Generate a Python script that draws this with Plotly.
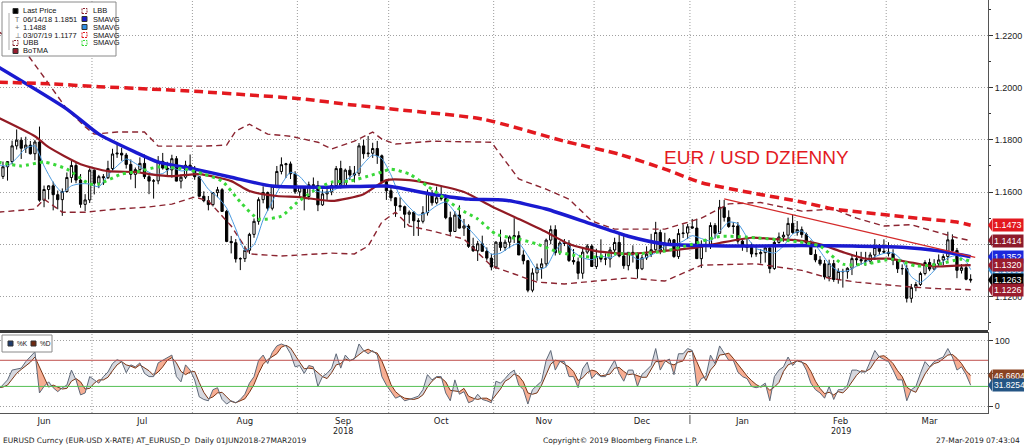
import plotly.graph_objects as go

# ---------------- DATA ----------------
month_names = ["Jun", "Jul", "Aug", "Sep", "Oct", "Nov", "Dec", "Jan", "Feb", "Mar"]
month_days = [21, 22, 23, 20, 23, 22, 21, 23, 20, 19]

open_ = [
 1.1693,1.1660,1.1697,1.1717,1.1777,1.1799,1.1768,1.1780,1.1747,1.1792,1.1569,1.1610,1.1624,1.1590,1.1571,1.1602,1.1656,1.1702,1.1646,1.1553,1.1570,
 1.1684,1.1634,1.1659,1.1655,1.1690,1.1746,1.1749,1.1742,1.1706,1.1668,1.1686,1.1710,1.1659,1.1642,1.1643,1.1718,1.1692,1.1685,1.1728,1.1642,1.1657,1.1703,
 1.1691,1.1659,1.1584,1.1567,1.1552,1.1598,1.1609,1.1526,1.1411,1.1406,1.1344,1.1345,1.1377,1.1438,1.1488,1.1571,1.1598,1.1538,1.1623,1.1679,1.1705,1.1708,1.1670,
 1.1601,1.1621,1.1583,1.1628,1.1625,1.1551,1.1593,1.1601,1.1625,1.1690,1.1625,1.1684,1.1665,1.1672,1.1777,1.1747,1.1749,1.1767,1.1739,1.1640,
 1.1605,1.1578,1.1548,1.1544,1.1515,1.1523,1.1490,1.1488,1.1521,1.1594,1.1559,1.1578,1.1575,1.1502,1.1449,1.1512,1.1462,1.1470,1.1392,1.1375,1.1402,1.1373,1.1347,
 1.1313,1.1408,1.1388,1.1408,1.1428,1.1433,1.1359,1.1337,1.1224,1.1290,1.1310,1.1325,1.1416,1.1456,1.1368,1.1405,1.1404,1.1338,1.1333,1.1289,1.1370,1.1393,
 1.1315,1.1353,1.1343,1.1344,1.1378,1.1407,1.1355,1.1318,1.1369,1.1363,1.1306,1.1348,1.1362,1.1379,1.1445,1.1373,1.1404,1.1417,1.1353,1.1441,1.1443,
 1.1467,1.1462,1.1345,1.1393,1.1395,1.1472,1.1442,1.1542,1.1503,1.1468,1.1470,1.1412,1.1395,1.1388,1.1363,1.1364,1.1368,1.1386,1.1307,1.1407,1.1428,1.1435,1.1480,
 1.1445,1.1456,1.1437,1.1406,1.1361,1.1340,1.1325,1.1275,1.1326,1.1265,1.1296,1.1295,1.1308,1.1345,1.1341,1.1337,1.1335,1.1359,1.1388,1.1373,
 1.1370,1.1364,1.1338,1.1306,1.1307,1.1193,1.1234,1.1246,1.1288,1.1330,1.1305,1.1325,1.1340,1.1353,1.1417,1.1376,1.1300,1.1310,1.1266]
high = [
 1.1719,1.1717,1.1717,1.1797,1.1840,1.1810,1.1812,1.1796,1.1800,1.1851,1.1625,1.1626,1.1640,1.1606,1.1614,1.1675,1.1720,1.1712,1.1669,1.1592,1.1691,
 1.1687,1.1666,1.1669,1.1720,1.1766,1.1791,1.1770,1.1750,1.1725,1.1694,1.1733,1.1744,1.1667,1.1650,1.1738,1.1750,1.1716,1.1743,1.1738,1.1668,1.1720,1.1744,
 1.1700,1.1660,1.1603,1.1585,1.1600,1.1620,1.1615,1.1532,1.1432,1.1420,1.1350,1.1394,1.1444,1.1499,1.1580,1.1622,1.1602,1.1624,1.1700,1.1733,1.1712,1.1717,1.1680,
 1.1623,1.1622,1.1640,1.1656,1.1643,1.1610,1.1620,1.1639,1.1700,1.1720,1.1690,1.1700,1.1700,1.1788,1.1800,1.1815,1.1789,1.1796,1.1744,1.1650,
 1.1623,1.1580,1.1580,1.1548,1.1530,1.1527,1.1500,1.1546,1.1610,1.1608,1.1621,1.1620,1.1591,1.1525,1.1527,1.1549,1.1497,1.1477,1.1425,1.1413,1.1433,1.1388,1.1364,
 1.1412,1.1456,1.1418,1.1434,1.1500,1.1450,1.1377,1.1340,1.1308,1.1326,1.1346,1.1422,1.1472,1.1473,1.1412,1.1420,1.1416,1.1382,1.1349,1.1388,1.1401,1.1400,
 1.1383,1.1419,1.1365,1.1390,1.1425,1.1443,1.1442,1.1370,1.1396,1.1369,1.1359,1.1392,1.1440,1.1486,1.1456,1.1444,1.1424,1.1420,1.1459,1.1476,1.1478,
 1.1497,1.1498,1.1415,1.1420,1.1484,1.1481,1.1570,1.1570,1.1530,1.1485,1.1485,1.1418,1.1420,1.1406,1.1395,1.1382,1.1393,1.1395,1.1416,1.1445,1.1448,1.1502,1.1514,
 1.1489,1.1468,1.1445,1.1415,1.1380,1.1355,1.1340,1.1341,1.1340,1.1308,1.1306,1.1312,1.1361,1.1372,1.1371,1.1371,1.1369,1.1420,1.1401,1.1419,
 1.1408,1.1381,1.1343,1.1323,1.1320,1.1248,1.1256,1.1295,1.1339,1.1345,1.1343,1.1361,1.1362,1.1448,1.1438,1.1386,1.1324,1.1325,1.1285]
low = [
 1.1617,1.1650,1.1644,1.1706,1.1763,1.1727,1.1750,1.1744,1.1722,1.1563,1.1542,1.1572,1.1530,1.1534,1.1509,1.1598,1.1636,1.1634,1.1540,1.1527,1.1558,
 1.1591,1.1615,1.1627,1.1650,1.1681,1.1731,1.1720,1.1690,1.1648,1.1615,1.1677,1.1650,1.1592,1.1575,1.1630,1.1686,1.1662,1.1655,1.1641,1.1614,1.1650,1.1681,
 1.1647,1.1581,1.1561,1.1530,1.1545,1.1580,1.1527,1.1408,1.1365,1.1330,1.1301,1.1332,1.1363,1.1425,1.1475,1.1557,1.1528,1.1530,1.1615,1.1668,1.1654,1.1650,1.1593,
 1.1584,1.1530,1.1571,1.1602,1.1527,1.1547,1.1570,1.1588,1.1620,1.1614,1.1620,1.1646,1.1637,1.1661,1.1728,1.1734,1.1731,1.1708,1.1639,1.1570,
 1.1565,1.1505,1.1528,1.1463,1.1480,1.1432,1.1432,1.1480,1.1510,1.1548,1.1553,1.1567,1.1496,1.1431,1.1447,1.1460,1.1432,1.1386,1.1371,1.1336,1.1373,1.1338,1.1300,
 1.1305,1.1375,1.1375,1.1385,1.1405,1.1359,1.1323,1.1216,1.1216,1.1260,1.1268,1.1312,1.1400,1.1357,1.1359,1.1393,1.1332,1.1322,1.1266,1.1268,1.1362,1.1321,
 1.1305,1.1331,1.1320,1.1311,1.1369,1.1350,1.1306,1.1300,1.1330,1.1269,1.1301,1.1340,1.1351,1.1375,1.1362,1.1370,1.1394,1.1348,1.1344,1.1424,1.1420,
 1.1460,1.1345,1.1309,1.1370,1.1382,1.1422,1.1440,1.1487,1.1463,1.1440,1.1402,1.1375,1.1370,1.1350,1.1352,1.1326,1.1330,1.1289,1.1302,1.1402,1.1410,1.1420,1.1440,
 1.1433,1.1425,1.1395,1.1360,1.1331,1.1318,1.1265,1.1258,1.1256,1.1249,1.1234,1.1268,1.1282,1.1319,1.1322,1.1318,1.1325,1.1340,1.1360,1.1365,
 1.1353,1.1320,1.1290,1.1283,1.1177,1.1176,1.1220,1.1240,1.1281,1.1297,1.1300,1.1315,1.1320,1.1338,1.1361,1.1270,1.1288,1.1262,1.1253]
close = [
 1.1660,1.1697,1.1717,1.1777,1.1799,1.1768,1.1780,1.1747,1.1792,1.1569,1.1610,1.1624,1.1590,1.1571,1.1602,1.1656,1.1702,1.1646,1.1553,1.1570,1.1684,
 1.1634,1.1659,1.1655,1.1690,1.1746,1.1749,1.1742,1.1706,1.1668,1.1686,1.1710,1.1659,1.1642,1.1643,1.1718,1.1692,1.1685,1.1728,1.1642,1.1657,1.1703,1.1691,
 1.1659,1.1584,1.1567,1.1552,1.1598,1.1609,1.1526,1.1411,1.1406,1.1344,1.1345,1.1377,1.1438,1.1488,1.1571,1.1598,1.1538,1.1623,1.1679,1.1705,1.1708,1.1670,1.1601,
 1.1621,1.1583,1.1628,1.1625,1.1551,1.1593,1.1601,1.1625,1.1690,1.1625,1.1684,1.1665,1.1672,1.1777,1.1747,1.1749,1.1767,1.1739,1.1640,1.1605,
 1.1578,1.1548,1.1544,1.1515,1.1523,1.1490,1.1488,1.1521,1.1594,1.1559,1.1578,1.1575,1.1502,1.1449,1.1512,1.1462,1.1470,1.1392,1.1375,1.1402,1.1373,1.1347,1.1313,
 1.1408,1.1388,1.1408,1.1428,1.1433,1.1359,1.1337,1.1224,1.1290,1.1310,1.1325,1.1416,1.1456,1.1368,1.1405,1.1404,1.1338,1.1333,1.1289,1.1370,1.1393,1.1315,
 1.1353,1.1343,1.1344,1.1378,1.1407,1.1355,1.1318,1.1369,1.1363,1.1306,1.1348,1.1362,1.1379,1.1445,1.1373,1.1404,1.1417,1.1353,1.1441,1.1443,1.1467,
 1.1462,1.1345,1.1393,1.1395,1.1472,1.1442,1.1542,1.1503,1.1468,1.1470,1.1412,1.1395,1.1388,1.1363,1.1364,1.1368,1.1386,1.1307,1.1407,1.1428,1.1435,1.1480,1.1445,
 1.1456,1.1437,1.1406,1.1361,1.1340,1.1325,1.1275,1.1326,1.1265,1.1296,1.1295,1.1308,1.1345,1.1341,1.1337,1.1335,1.1359,1.1388,1.1373,1.1370,
 1.1364,1.1338,1.1306,1.1307,1.1193,1.1234,1.1246,1.1288,1.1330,1.1305,1.1325,1.1340,1.1353,1.1417,1.1376,1.1300,1.1310,1.1266,1.1263]

# overlay studies read at sample points (trading-day index, value)
sma_blue_x = [0, 15, 22, 30, 35, 43, 51, 60, 73, 85, 95, 103, 111, 120, 130, 138, 146, 154, 165, 176, 187, 198, 206, 213]
sma_blue_y = [1.2079, 1.1918, 1.1822, 1.1753, 1.1715, 1.1688, 1.1657, 1.1623, 1.1619, 1.1623, 1.1592, 1.1573, 1.1569, 1.1535,
              1.1477, 1.1431, 1.1401, 1.1395, 1.1393, 1.1395, 1.1393, 1.1389, 1.1375, 1.1352]

sma_red_x = [0, 11, 22, 33, 44, 55, 66, 77, 88, 106, 124, 136, 146, 154, 165, 176, 183, 187, 199, 210, 213]
sma_red_y = [1.2021, 1.2015, 1.2004, 1.1995, 1.1985, 1.1972, 1.1958, 1.1935, 1.1915, 1.1880, 1.1795, 1.1745, 1.1688, 1.1636,
             1.1597, 1.1562, 1.1535, 1.1527, 1.1504, 1.1485, 1.1473]

botma_x = [0, 8, 11, 18, 24, 30, 33, 38, 44, 51, 55, 61, 66, 73, 80, 85, 90, 95, 102, 108, 114, 120, 125, 131, 138, 146,
           152, 158, 165, 170, 175, 180, 185, 190, 195, 200, 205, 210, 213]
botma_y = [1.1885, 1.1814, 1.1772, 1.1707, 1.1680, 1.1677, 1.1669, 1.1661, 1.1669, 1.1642, 1.1604, 1.1585, 1.1581, 1.1566,
           1.1592, 1.1646, 1.1646, 1.1631, 1.1600, 1.1546, 1.1497, 1.1447, 1.1401, 1.1374, 1.1363, 1.1375,
           1.1385, 1.1405, 1.1425, 1.1420, 1.1415, 1.1400, 1.1370, 1.1345, 1.1345, 1.1330, 1.1315, 1.1318, 1.1320]

ubb_x = [0, 5, 10, 15, 19, 21, 26, 32, 35, 45, 50, 52, 55, 59, 64, 70, 73, 78, 82, 84, 87, 95, 108, 114, 120, 125, 130,
         135, 146, 154, 160, 167, 176, 183, 188, 194, 200, 205, 210, 213]
ubb_y = [1.2215, 1.2160, 1.2040, 1.1918, 1.1850, 1.1822, 1.1830, 1.1830, 1.1776, 1.1776, 1.1780, 1.1834, 1.1860, 1.1822,
         1.1814, 1.1791, 1.1765, 1.1795, 1.1830, 1.1803, 1.1784, 1.1795, 1.1791, 1.1650, 1.1611, 1.1573, 1.1489,
         1.1458, 1.1458, 1.1500, 1.1555, 1.1560, 1.1527, 1.1535, 1.1500, 1.1470, 1.1475, 1.1450, 1.1425, 1.1414]

lbb_x = [0, 8, 10, 13, 14, 19, 26, 33, 38, 43, 46, 51, 55, 62, 73, 78, 81, 84, 87, 90, 95, 102, 108, 113, 118, 124, 131,
         138, 146, 154, 166, 176, 182, 188, 200, 206, 213]
lbb_y = [1.1523, 1.1535, 1.1573, 1.1535, 1.1523, 1.1523, 1.1535, 1.1543, 1.1554, 1.1581, 1.1566, 1.1470, 1.1363, 1.1355,
         1.1366, 1.1363, 1.1393, 1.1485, 1.1523, 1.1470, 1.1451, 1.1420, 1.1317, 1.1286, 1.1255, 1.1248, 1.1259,
         1.1271, 1.1259, 1.1320, 1.1325, 1.1300, 1.1270, 1.1255, 1.1236, 1.1230, 1.1226]

sma_green_x = [0, 5, 10, 15, 20, 22, 27, 31, 35, 41, 45, 49, 53, 57, 62, 65, 69, 73, 77, 81, 84, 86, 90, 94, 98, 101, 105,
               109, 114, 118, 122, 127, 131, 135, 140, 146, 152, 158, 166, 175, 180, 185, 190, 196, 201, 206, 211, 213]
sma_green_y = [1.1715, 1.1700, 1.1715, 1.1688, 1.1631, 1.1631, 1.1669, 1.1680, 1.1696, 1.1688, 1.1669, 1.1642, 1.1562,
               1.1497, 1.1508, 1.1554, 1.1604, 1.1638, 1.1642, 1.1661, 1.1677, 1.1688, 1.1669, 1.1623, 1.1573, 1.1535,
               1.1497, 1.1439, 1.1420, 1.1401, 1.1374, 1.1355, 1.1351, 1.1363, 1.1363, 1.1374, 1.1400, 1.1430, 1.1425,
               1.1410, 1.1393, 1.1324, 1.1324, 1.1343, 1.1317, 1.1324, 1.1343, 1.1335]

sma_lblue_x = list(range(0, 213, 2)) + [213]
sma_lblue_y = [1.1705, 1.1700, 1.1730, 1.1768, 1.1777, 1.1700, 1.1637, 1.1599, 1.1624, 1.1632, 1.1631, 1.1620, 1.1664,
               1.1700, 1.1727, 1.1710, 1.1686, 1.1668, 1.1671, 1.1693, 1.1681, 1.1684, 1.1659, 1.1611, 1.1582, 1.1539,
               1.1459, 1.1377, 1.1398, 1.1494, 1.1564, 1.1629, 1.1676, 1.1660, 1.1621, 1.1602, 1.1600, 1.1612, 1.1645,
               1.1667, 1.1709, 1.1742, 1.1728, 1.1666, 1.1583, 1.1542, 1.1512, 1.1523, 1.1548, 1.1562, 1.1523, 1.1479,
               1.1442, 1.1402, 1.1362, 1.1366, 1.1389, 1.1403, 1.1356, 1.1304, 1.1313, 1.1375, 1.1410, 1.1371, 1.1348,
               1.1341, 1.1355, 1.1347, 1.1365, 1.1365, 1.1342, 1.1350, 1.1368, 1.1393, 1.1398, 1.1412, 1.1433, 1.1422,
               1.1413, 1.1449, 1.1485, 1.1479, 1.1427, 1.1384, 1.1374, 1.1366, 1.1393, 1.1439, 1.1451, 1.1421, 1.1374,
               1.1325, 1.1297, 1.1298, 1.1316, 1.1332, 1.1352, 1.1365, 1.1367, 1.1337, 1.1276, 1.1254, 1.1281, 1.1318,
               1.1348, 1.1357, 1.1334, 1.1303]

trend_x = [159, 214]
trend_y = [1.1574, 1.1350]

stoch_k = [25,32,40,55,56,58,68,75,83,20,30,37,28,22,28,32,55,40,17,20,45,40,35,45,52,65,71,68,51,63,60,66,50,45,45,66,70,74,78,45,37,63,55,40,14,
           10,8,25,28,10,3,8,5,10,18,35,45,70,78,65,82,92,95,92,80,60,
           62,50,62,60,30,45,50,58,80,58,78,70,72,95,85,80,85,78,45,32,
           22,12,15,8,10,12,15,25,48,40,45,45,20,8,40,18,22,5,8,18,10,8,5,
           38,35,42,50,55,32,25,3,25,32,38,70,85,55,68,68,45,45,28,57,67,42,
           50,45,45,58,70,50,38,55,55,30,48,55,62,88,55,68,72,48,80,80,88,
           85,30,42,45,78,65,92,80,70,70,52,45,42,30,28,30,35,8,45,55,60,75,62,
           70,68,55,35,25,20,12,30,10,25,25,32,55,55,52,52,68,85,75,72,
           68,55,40,40,8,25,30,50,68,60,68,72,75,88,75,55,60,48,31.8254]
stoch_d = [28,29,32,42,50,56,61,67,75,59,44,29,32,29,26,27,38,42,37,26,27,35,40,40,44,54,63,68,63,61,58,63,59,54,47,52,60,70,74,66,53,48,52,53,36,
           21,11,14,20,21,14,7,5,8,11,21,33,50,64,71,75,80,90,93,89,77,
           67,57,58,57,51,45,42,51,63,65,72,69,73,79,84,87,83,81,69,52,
           33,22,16,12,11,10,12,17,29,38,44,43,37,24,23,22,27,15,12,10,12,12,8,
           17,26,38,42,49,46,37,20,18,20,32,47,64,70,69,64,60,53,39,43,51,55,
           53,46,47,49,58,59,53,48,49,47,44,44,55,68,68,70,65,63,67,69,83,
           84,68,52,39,55,63,78,79,81,73,64,56,46,39,33,29,31,24,29,36,53,63,66,
           69,67,64,53,38,27,19,21,17,22,20,27,37,47,54,53,57,68,76,77,
           72,65,54,45,29,24,21,35,49,59,65,67,72,78,79,73,65,54,46.6604]
stoch_levels = [70, 30]

# last-value tags on the right axis: (value, background)
price_tags = [(1.1473, "#e3191f"), (1.1414, "#8e1b2b"), (1.1303, "#3e95d8"), (1.1352, "#1b28dc"),
              (1.1320, "#9a1c2e"), (1.1263, "#000000"), (1.1226, "#9a1c2e")]
stoch_tags = [(46.6604, "#8a4321"), (31.8254, "#245584")]

# ---------------- FIGURE ----------------
n = len(close)
assert len(open_) == n and len(high) == n and len(low) == n and n == sum(month_days)
assert len(stoch_k) == n and len(stoch_d) == n
idx = list(range(n))

PW, PH = 988.0, 413.0          # plot area in px
MAIN_DOM = [0.2, 1.0]
LOW_DOM = [0.0, 0.195]
Y_RANGE = [1.1070, 1.2336]
Y2_RANGE = [-10.7, 112.6]
X_RANGE = [0.35, 216.8]

def py(px):
    return (PH - px) / PH

def pxx(px):
    return px / PW

def y_to_paper(v):
    return MAIN_DOM[0] + (v - Y_RANGE[0]) / (Y_RANGE[1] - Y_RANGE[0]) * (MAIN_DOM[1] - MAIN_DOM[0])

def y2_to_paper(v):
    return LOW_DOM[0] + (v - Y2_RANGE[0]) / (Y2_RANGE[1] - Y2_RANGE[0]) * (LOW_DOM[1] - LOW_DOM[0])

fig = go.Figure()

fig.add_trace(go.Candlestick(
    x=idx, open=open_, high=high, low=low, close=close,
    increasing=dict(line=dict(color="#000000", width=1), fillcolor="#ffffff"),
    decreasing=dict(line=dict(color="#000000", width=1), fillcolor="#000000"),
    whiskerwidth=0, showlegend=False, hoverinfo="skip", xaxis="x", yaxis="y"))

def line(x, y, color, width, dash="solid", shape="spline"):
    fig.add_trace(go.Scatter(x=x, y=y, mode="lines", xaxis="x", yaxis="y",
                             line=dict(color=color, width=width, dash=dash, shape=shape, smoothing=0.6),
                             showlegend=False, hoverinfo="skip"))

line(ubb_x, ubb_y, "#8b2430", 1.4, "6px,4px", "linear")
line(lbb_x, lbb_y, "#8b2430", 1.4, "6px,4px", "linear")
line(sma_lblue_x, sma_lblue_y, "#4a9ae0", 1.0)
line(botma_x, botma_y, "#921b24", 2.2)
line(sma_blue_x, sma_blue_y, "#1a1ad0", 3.5)
line(sma_green_x, sma_green_y, "#39d839", 3.0, "3px,4px")
line(sma_red_x, sma_red_y, "#e3191f", 3.5, "9px,5px")
line(trend_x, trend_y, "#d42a2a", 1.3, "solid", "linear")

# ---- stochastic panel: fills between %K and %D
def runs(x, a, b):
    pos, neg = [], []
    pts = [(x[0], a[0], b[0], False)]
    for i in range(len(x) - 1):
        d0, d1 = a[i] - b[i], a[i + 1] - b[i + 1]
        if d0 * d1 < 0:
            t = d0 / (d0 - d1)
            xc = x[i] + t * (x[i + 1] - x[i])
            yc = a[i] + t * (a[i + 1] - a[i])
            pts.append((xc, yc, yc, True))
        pts.append((x[i + 1], a[i + 1], b[i + 1], False))
    cur, sign = [], None
    def flush(cur, sign):
        if len(cur) > 1:
            xs = [p[0] for p in cur] + [p[0] for p in reversed(cur)] + [None]
            ys = [p[1] for p in cur] + [p[2] for p in reversed(cur)] + [None]
            (pos if (sign or 1) > 0 else neg).append((xs, ys))
    for p in pts:
        if p[3]:
            cur.append(p)
            flush(cur, sign)
            cur, sign = [p], (-sign if sign else None)
            continue
        dd = p[1] - p[2]
        if sign is None and dd != 0:
            sign = 1 if dd > 0 else -1
        cur.append(p)
    flush(cur, sign)
    return pos, neg

pos, neg = runs(idx, stoch_k, stoch_d)
for group, col in ((pos, "rgba(210,212,220,0.9)"), (neg, "rgba(246,165,135,0.9)")):
    xs, ys = [], []
    for gx, gy in group:
        xs += gx
        ys += gy
    fig.add_trace(go.Scatter(x=xs, y=ys, mode="none", fill="toself", fillcolor=col,
                             xaxis="x2", yaxis="y2", showlegend=False, hoverinfo="skip"))

fig.add_trace(go.Scatter(x=idx, y=stoch_d, mode="lines", line=dict(color="#7a3414", width=1),
                         xaxis="x2", yaxis="y2", showlegend=False, hoverinfo="skip"))
fig.add_trace(go.Scatter(x=idx, y=stoch_k, mode="lines", line=dict(color="#5d6878", width=1),
                         xaxis="x2", yaxis="y2", showlegend=False, hoverinfo="skip"))

# ---- month layout
bounds, mids = [], []
start = 0
for d in month_days:
    mids.append(start + (d - 1) / 2)
    start += d
    bounds.append(start - 0.5)
bounds = bounds[:-1]

shapes = []
for b in bounds:
    shapes.append(dict(type="line", xref="x", yref="paper", x0=b, x1=b, y0=0, y1=1,
                       line=dict(color="#9c9c9c", width=1, dash="1px,2px"), layer="below"))
shapes.append(dict(type="line", xref="paper", yref="y2", x0=0, x1=1, y0=stoch_levels[0], y1=stoch_levels[0],
                   line=dict(color="#c0504d", width=1)))
shapes.append(dict(type="line", xref="paper", yref="y2", x0=0, x1=1, y0=stoch_levels[1], y1=stoch_levels[1],
                   line=dict(color="#55c055", width=1)))
shapes.append(dict(type="line", xref="paper", yref="paper", x0=0, x1=1, y0=0.1975, y1=0.1975,
                   line=dict(color="#3a3a3a", width=3)))
shapes.append(dict(type="line", xref="x", yref="paper", x0=bounds[6], x1=bounds[6], y0=py(415), y1=py(424),
                   line=dict(color="#555", width=1)))

shapes.append(dict(type="rect", xref="paper", yref="paper", x0=pxx(2), x1=pxx(116), y0=py(56), y1=py(2),
                   fillcolor="white", line=dict(color="#8a8a8a", width=1), layer="above"))
shapes.append(dict(type="line", xref="paper", yref="paper", x0=pxx(9), x1=pxx(9), y0=py(50), y1=py(13),
                   line=dict(color="#aaaaaa", width=1), layer="above"))
shapes.append(dict(type="rect", xref="paper", yref="paper", x0=pxx(2), x1=pxx(52), y0=py(352), y1=py(335),
                   fillcolor="white", line=dict(color="#8a8a8a", width=1), layer="above"))

annotations = []
FONT = "DejaVu Sans"
LFONT = "Liberation Sans"

def sq(x0, row_y, color, filled=True, dash=False):
    shapes.append(dict(type="rect", xref="paper", yref="paper", x0=pxx(x0), x1=pxx(x0 + 5),
                       y0=py(row_y + 2.5), y1=py(row_y - 2.5),
                       fillcolor=color if filled else "white",
                       line=dict(color=color if not filled else "#333", width=1, dash="2px,1px" if dash else "solid"),
                       layer="above"))

def txt(x, y, s, size=7.5, color="#111", anchor="left"):
    annotations.append(dict(xref="paper", yref="paper", x=pxx(x), y=py(y), text=s, showarrow=False,
                            xanchor=anchor, yanchor="middle", font=dict(family=LFONT, size=size, color=color)))

rows = [11, 19, 27, 35, 43, 51]
sq(13, rows[0], "#000000")
txt(21, rows[0], "Last Price")
txt(13, rows[1], "T", 7, "#666")
txt(21, rows[1], "06/14/18 1.1851")
txt(13, rows[2], "+", 7.5, "#666")
txt(21, rows[2], "1.1488")
txt(13, rows[3], "⊥", 7, "#666")
txt(21, rows[3], "03/07/19 1.1177")
sq(13, rows[4], "#8b2430", filled=False, dash=True)
txt(21, rows[4], "UBB")
sq(13, rows[5], "#9a1c2e")
txt(21, rows[5], "BoTMA")
sq(82, rows[0], "#8b2430", filled=False, dash=True)
txt(91, rows[0], "LBB")
sq(82, rows[1], "#1a1ad0")
txt(91, rows[1], "SMAVG")
sq(82, rows[2], "#2e8fe6")
txt(91, rows[2], "SMAVG")
sq(82, rows[3], "#e3191f", filled=False, dash=True)
txt(91, rows[3], "SMAVG")
sq(82, rows[4], "#39d839", filled=False, dash=True)
txt(91, rows[4], "SMAVG")

sq(8, 343.5, "#1f3c6e")
txt(15, 343.5, "%K", 6.5)
sq(31, 343.5, "#6e2a10")
txt(38, 343.5, "%D", 6.5)

annotations.append(dict(xref="x", yref="y", x=145.3, y=1.1734, text="EUR / USD DZIENNY", showarrow=False,
                        xanchor="left", yanchor="middle",
                        font=dict(family="Liberation Sans", size=19, color="#e3191f")))

def tag(yp, text, col, size):
    h = 6.0 / PH
    shapes.append(dict(type="path", xref="paper", yref="paper",
                       path=f"M 1.0,{yp} L {1 + 4 / PW},{yp + h} L {1 + 4 / PW},{yp - h} Z",
                       fillcolor=col, line=dict(width=0), layer="above"))
    annotations.append(dict(xref="paper", yref="paper", x=1.0, xshift=4, y=yp, text=text, showarrow=False,
                            xanchor="left", yanchor="middle", bgcolor=col, borderpad=1,
                            font=dict(family=LFONT, size=size, color="white")))

for v, col in price_tags:
    tag(y_to_paper(v), f"{v:.4f}", col, 9)
for v, col in stoch_tags:
    tag(y2_to_paper(v), f"{v:.4f}", col, 8.5)

annotations.append(dict(xref="x", yref="paper", x=mids[3], y=py(431), text="2018", showarrow=False,
                        xanchor="center", yanchor="middle", font=dict(family=FONT, size=8, color="#222")))
annotations.append(dict(xref="x", yref="paper", x=mids[8], y=py(431), text="2019", showarrow=False,
                        xanchor="center", yanchor="middle", font=dict(family=FONT, size=8, color="#222")))
annotations.append(dict(xref="paper", yref="paper", x=pxx(1), y=py(440),
                        text="EURUSD Curncy (EUR-USD X-RATE) AT_EURUSD_D  Daily 01JUN2018-27MAR2019",
                        showarrow=False, xanchor="left", yanchor="middle",
                        font=dict(family=FONT, size=7.5, color="#222")))
annotations.append(dict(xref="paper", yref="paper", x=pxx(620), y=py(440),
                        text="Copyright© 2019 Bloomberg Finance L.P.", showarrow=False,
                        xanchor="center", yanchor="middle", font=dict(family=FONT, size=7.5, color="#222")))
annotations.append(dict(xref="paper", yref="paper", x=pxx(1022), y=py(440),
                        text="27-Mar-2019 07:43:04", showarrow=False,
                        xanchor="right", yanchor="middle", font=dict(family=FONT, size=7.5, color="#222")))

fig.update_layout(
    width=1024, height=446,
    margin=dict(l=0, r=36, t=0, b=33),
    paper_bgcolor="white", plot_bgcolor="white",
    showlegend=False,
    xaxis=dict(domain=[0, 1], anchor="y", range=X_RANGE, showticklabels=False, showgrid=False,
               zeroline=False, rangeslider=dict(visible=False), ticks=""),
    xaxis2=dict(domain=[0, 1], anchor="y2", matches="x", range=X_RANGE, tickmode="array",
                tickvals=mids, ticktext=month_names, ticks="", showgrid=False, zeroline=False,
                showline=True, linecolor="#555", linewidth=1,
                tickfont=dict(family=FONT, size=8.5, color="#222")),
    yaxis=dict(domain=MAIN_DOM, anchor="x", side="right", range=Y_RANGE, tickmode="linear",
               tick0=1.12, dtick=0.02, tickformat=".4f", showgrid=True, gridcolor="#a0a0a0",
               griddash="1px,2px", zeroline=False, showline=True, linecolor="#555", ticks="outside",
               ticklen=4, tickcolor="#333", minor=dict(dtick=0.01, tick0=1.12, ticks="outside", ticklen=2,
                                                       tickcolor="#333", showgrid=False),
               tickfont=dict(family="Liberation Sans", size=9, color="#222")),
    yaxis2=dict(domain=LOW_DOM, anchor="x2", side="right", range=Y2_RANGE, tickmode="array",
                tickvals=[0, 50, 100], ticktext=["0", "", "100"], showgrid=True, gridcolor="#a0a0a0",
                griddash="1px,2px", zeroline=False, showline=True, linecolor="#555", ticks="outside",
                ticklen=4, tickcolor="#333", tickfont=dict(family="Liberation Sans", size=9, color="#222")),
    shapes=shapes, annotations=annotations,
)

fig.write_html("out.html", config={"displayModeBar": False},
               post_script="document.body.style.margin='0px';document.body.style.overflow='hidden';")
